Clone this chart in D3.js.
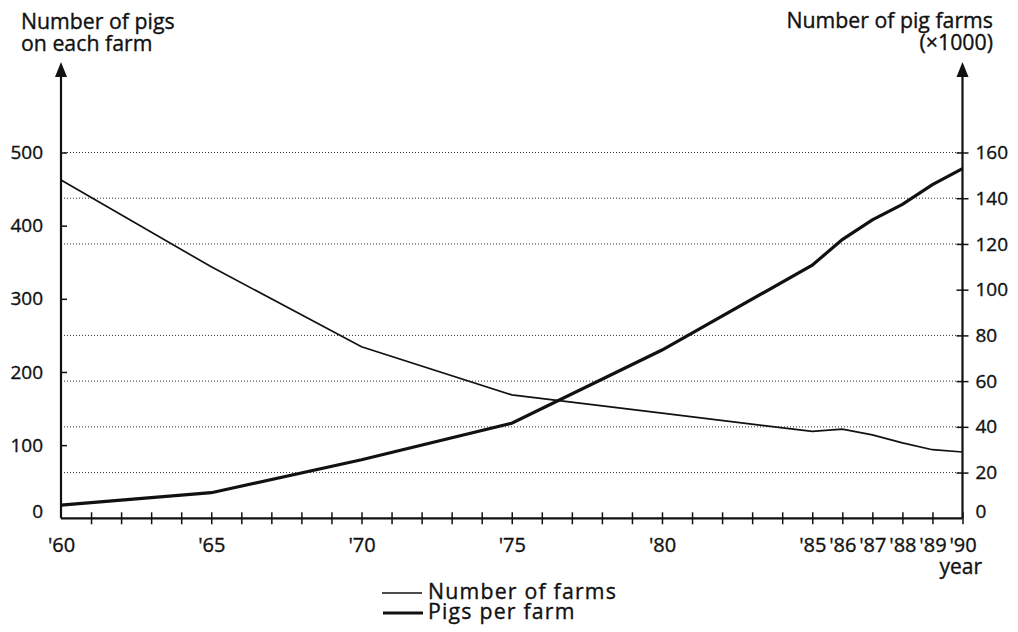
<!DOCTYPE html>
<html>
<head>
<meta charset="utf-8">
<script src="https://cdn.jsdelivr.net/npm/d3@7"></script>
<style>
    body { margin: 0; background: #fff; }
    svg text { font-family: "Open Sans", "Noto Sans", sans-serif; fill: #111; stroke: #111; stroke-width: 0.35px; }
</style>
</head>
<body>
<div id="chart"></div>
<script>
// years that have a reading in the picture
const years = [1960, 1965, 1970, 1975, 1980, 1985, 1986, 1987, 1988, 1989, 1990];
// pigs on each farm (left axis)
const pigsPerFarm = [18, 35, 80, 130, 230, 346, 381, 408, 429, 456, 478];
// number of pig farms x1000 (right axis)
const numberOfFarms = [148, 110, 75, 54, 46, 38, 39, 36.5, 33, 30, 29];

const labelYears = [1960, 1965, 1970, 1975, 1980, 1985, 1986, 1987, 1988, 1989, 1990];
const yearLabels = ["'60", "'65", "'70", "'75", "'80", "'85", "'86", "'87", "'88", "'89", "'90"];
const leftTicks = [0, 100, 200, 300, 400, 500];
const rightTicks = [0, 20, 40, 60, 80, 100, 120, 140, 160];
const gridValues = [20, 40, 60, 80, 120, 140, 160];

class pigChart {
    constructor(parentElement) {
        this.parentElement = parentElement;
        this.initVis();
    }

    initVis() {
        let vis = this;
        vis.width = 1018;
        vis.height = 632;

        vis.svg = d3.select("#" + vis.parentElement).append("svg")
            .attr("width", vis.width)
            .attr("height", vis.height);

        vis.x = d3.scaleLinear().domain([1960, 1990]).range([61, 962.5]);
        vis.yLeft = d3.scaleLinear().domain([0, 500]).range([518.3, 152.5]);
        vis.yRight = d3.scaleLinear().domain([0, 160]).range([518.3, 152.5]);

        vis.updateVis();
    }

    updateVis() {
        let vis = this;
        let x0 = vis.x(1960), x1 = vis.x(1990), yBase = vis.yLeft(0);

        // dotted grid lines
        vis.svg.selectAll(".grid").data(gridValues).enter().append("line")
            .attr("class", "grid")
            .attr("x1", x0).attr("x2", x1)
            .attr("y1", d => vis.yRight(d)).attr("y2", d => vis.yRight(d))
            .attr("stroke", "#333")
            .attr("stroke-width", 1)
            .attr("stroke-dasharray", "1,2");

        // x axis, ticks cross the line
        let labelMap = {};
        labelYears.forEach((y, i) => labelMap[y] = yearLabels[i]);
        let xAxis = d3.axisBottom(vis.x)
            .tickValues(d3.range(1960, 1991))
            .tickSize(6)
            .tickPadding(14)
            .tickFormat(d => labelMap[d] || "");
        let gx = vis.svg.append("g")
            .attr("transform", "translate(0," + yBase + ")")
            .call(xAxis);
        gx.select(".domain").remove();
        gx.selectAll(".tick line").attr("y1", -6).attr("stroke", "#111").attr("stroke-width", 1.5);
        gx.selectAll(".tick").filter(d => d == 1960).select("line").remove();
        gx.selectAll(".tick text").attr("font-size", 20).attr("fill", "#111");
        gx.append("line")
            .attr("x1", x0).attr("x2", x1).attr("y1", 0).attr("y2", 0)
            .attr("stroke", "#111").attr("stroke-width", 2.2);

        // left axis
        let yAxisLeft = d3.axisLeft(vis.yLeft).tickValues(leftTicks).tickSize(6).tickPadding(12);
        let gl = vis.svg.append("g")
            .attr("transform", "translate(" + x0 + ",0)")
            .call(yAxisLeft);
        gl.select(".domain").remove();
        gl.selectAll(".tick line").attr("x2", 6).attr("stroke", "#111").attr("stroke-width", 1.5);
        gl.selectAll(".tick").filter(d => d == 0).select("line").remove();
        gl.selectAll(".tick text").attr("font-size", 19).attr("fill", "#111")
            .attr("dy", d => d == 0 ? "-0.05em" : "0.32em");

        // right axis
        let yAxisRight = d3.axisRight(vis.yRight).tickValues(rightTicks).tickSize(6).tickPadding(7);
        let gr = vis.svg.append("g")
            .attr("transform", "translate(" + x1 + ",0)")
            .call(yAxisRight);
        gr.select(".domain").remove();
        gr.selectAll(".tick line").attr("x1", -6).attr("stroke", "#111").attr("stroke-width", 1.5);
        gr.selectAll(".tick").filter(d => d == 0).select("line").remove();
        gr.selectAll(".tick text").attr("font-size", 19).attr("fill", "#111")
            .attr("dy", d => d == 0 ? "-0.05em" : "0.32em");

        // vertical axis lines with arrows
        [x0, x1].forEach(xa => {
            vis.svg.append("line")
                .attr("x1", xa).attr("x2", xa)
                .attr("y1", yBase).attr("y2", 74)
                .attr("stroke", "#111").attr("stroke-width", 2.2);
            vis.svg.append("path")
                .attr("d", "M" + xa + ",62 L" + (xa - 6) + ",77 L" + (xa + 6) + ",77 Z")
                .attr("fill", "#111");
        });

        // lines
        let farmsLine = d3.line()
            .x((d, i) => vis.x(years[i]))
            .y(d => vis.yRight(d));
        let pigsLine = d3.line()
            .x((d, i) => vis.x(years[i]))
            .y(d => vis.yLeft(d));

        vis.svg.append("path")
            .datum(numberOfFarms)
            .attr("d", farmsLine)
            .attr("fill", "none")
            .attr("stroke", "#111")
            .attr("stroke-width", 1.7);

        vis.svg.append("path")
            .datum(pigsPerFarm)
            .attr("d", pigsLine)
            .attr("fill", "none")
            .attr("stroke", "#111")
            .attr("stroke-width", 3.2);

        // titles
        let title = vis.svg.append("g").attr("font-size", 21.3);
        title.append("text").attr("x", 21).attr("y", 29).text("Number of pigs");
        title.append("text").attr("x", 21).attr("y", 51).text("on each farm");
        title.append("text").attr("x", 993).attr("y", 28).attr("text-anchor", "end").text("Number of pig farms");
        title.append("text").attr("x", 993).attr("y", 50).attr("text-anchor", "end").text("(\u00d71000)");
        title.append("text").attr("x", 982).attr("y", 574).attr("text-anchor", "end").attr("font-size", 21).text("year");

        // legend
        let legend = vis.svg.append("g").attr("font-size", 21.3).attr("letter-spacing", 1.2);
        legend.append("line").attr("x1", 382).attr("x2", 422).attr("y1", 593).attr("y2", 593)
            .attr("stroke", "#111").attr("stroke-width", 1.7);
        legend.append("text").attr("x", 428).attr("y", 599).text("Number of farms");
        legend.append("line").attr("x1", 383).attr("x2", 423).attr("y1", 613).attr("y2", 613)
            .attr("stroke", "#111").attr("stroke-width", 3.2);
        legend.append("text").attr("x", 428).attr("y", 619).text("Pigs per farm");
    }
}

new pigChart("chart");
</script>
</body>
</html>
